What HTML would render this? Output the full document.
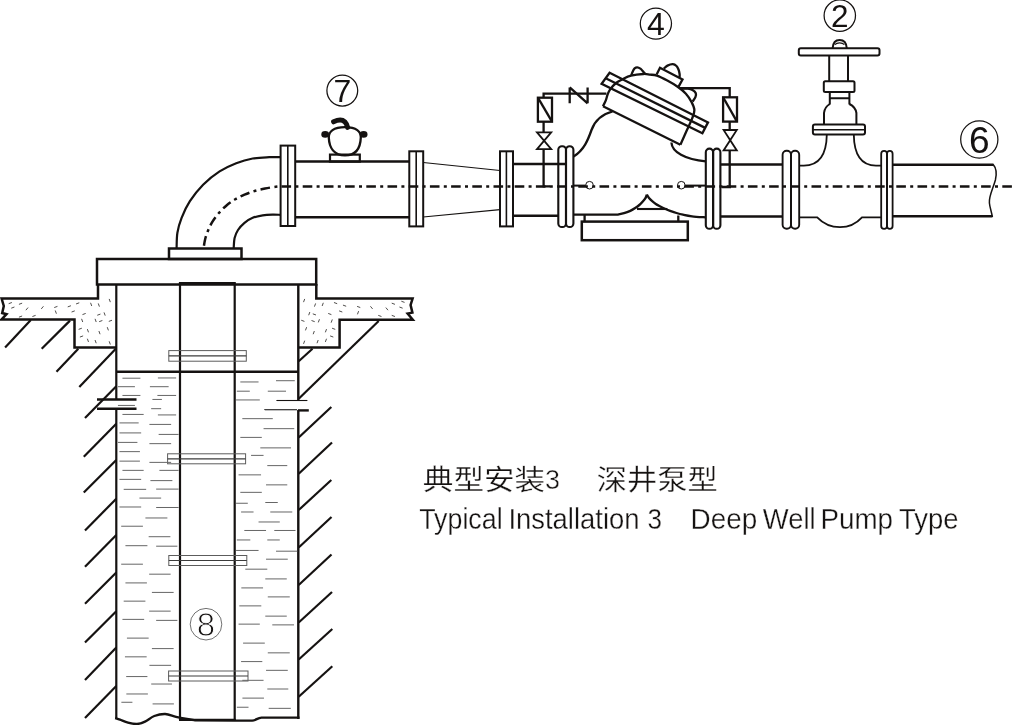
<!DOCTYPE html>
<html lang="zh">
<head>
<meta charset="utf-8">
<title>典型安装3 深井泵型 - Typical Installation 3 Deep Well Pump Type</title>
<style>
html,body{margin:0;padding:0;background:#fff;}
body{width:1013px;height:725px;overflow:hidden;font-family:"Liberation Sans","Noto Sans CJK SC",sans-serif;}
svg{display:block;}
svg line, svg path, svg rect, svg circle{vector-effect:none;}
</style>
</head>
<body>
<svg style="will-change:transform" width="1013" height="725" viewBox="0 0 1013 725" stroke-linejoin="miter" stroke-linecap="butt">
<rect x="0" y="0" width="1013" height="725" fill="#ffffff" stroke="none"/>
<g id="well">
<rect x="97.00" y="259.00" width="219.20" height="25.50" rx="0" stroke="#151211" stroke-width="2.5" fill="none" />
<rect x="169.00" y="248.50" width="72.50" height="10.50" rx="0" stroke="#151211" stroke-width="2.5" fill="none" />
<path d="M98,284 V298.5 H1.6 L3.8,306 L2.2,313 L6.5,314.2 L1.6,319.4 H74.5 V347.6 H116.3" stroke="#151211" stroke-width="2.5" fill="none" />
<path d="M316.3,284 V298.5 H412.6 L410.6,305 L412.4,312.6 L407.6,313.6 L412.8,319.8 H339.6 V347.6 H298.3" stroke="#151211" stroke-width="2.5" fill="none" />
<path d="M116.3,284 V399.6 M116.3,408.8 V719" stroke="#151211" stroke-width="2.2" fill="none" />
<path d="M298.3,284 V400 M298.3,410 V719" stroke="#151211" stroke-width="2.4" fill="none" />
<path d="M180,720 V283.6 M234.7,283.6 V720" stroke="#151211" stroke-width="2.2" fill="none" />
<line x1="178.90" y1="283.50" x2="235.80" y2="283.50" stroke="#151211" stroke-width="3" />
<line x1="116.30" y1="371.70" x2="298.30" y2="371.70" stroke="#151211" stroke-width="2.5" />
<path d="M115.20,718.00 C116.00,718.27 117.87,718.83 120.00,719.60 C122.13,720.37 125.17,721.87 128.00,722.60 C130.83,723.33 134.17,724.17 137.00,724.00 C139.83,723.83 142.12,722.93 145.00,721.60 C147.88,720.27 150.93,717.27 154.30,716.00 C157.67,714.73 161.58,713.87 165.20,714.00 C168.82,714.13 172.37,715.97 176.00,716.80 C179.63,717.63 183.73,718.40 187.00,719.00 C190.27,719.60 194.17,720.17 195.60,720.40 L234.8,720.6 L252.2,720.6 C256,720.4 257.5,717.8 261.5,717.6 L299.5,717.6" stroke="#151211" stroke-width="2.4" fill="none" />
<line x1="179.00" y1="719.80" x2="235.80" y2="719.80" stroke="#151211" stroke-width="2.2" />
<line x1="97.00" y1="399.60" x2="136.50" y2="399.60" stroke="#151211" stroke-width="2.5" />
<line x1="97.00" y1="408.80" x2="136.50" y2="408.80" stroke="#151211" stroke-width="2.5" />
<line x1="276.40" y1="400.50" x2="307.40" y2="400.50" stroke="#151211" stroke-width="1.1" />
<line x1="264.40" y1="409.50" x2="297.00" y2="409.50" stroke="#151211" stroke-width="1.1" />
<line x1="298.00" y1="410.40" x2="308.80" y2="410.40" stroke="#151211" stroke-width="2.4" />
</g>
<g id="clamps">
<rect x="168.80" y="350.60" width="77.50" height="10.60" rx="0" stroke="#5c5c5c" stroke-width="1" fill="none" />
<line x1="168.80" y1="355.90" x2="246.30" y2="355.90" stroke="#3c3c3c" stroke-width="1.2" />
<rect x="167.60" y="453.80" width="78.00" height="10.00" rx="0" stroke="#5c5c5c" stroke-width="1" fill="none" />
<line x1="167.60" y1="458.80" x2="245.60" y2="458.80" stroke="#3c3c3c" stroke-width="1.2" />
<rect x="168.80" y="555.50" width="78.00" height="10.00" rx="0" stroke="#5c5c5c" stroke-width="1" fill="none" />
<line x1="168.80" y1="560.50" x2="246.80" y2="560.50" stroke="#3c3c3c" stroke-width="1.2" />
<rect x="168.60" y="671.00" width="79.40" height="10.00" rx="0" stroke="#5c5c5c" stroke-width="1" fill="none" />
<line x1="168.60" y1="676.00" x2="248.00" y2="676.00" stroke="#3c3c3c" stroke-width="1.2" />
</g>
<g id="hatch">
<line x1="30.80" y1="320.00" x2="5.10" y2="347.40" stroke="#151211" stroke-width="2.2" />
<line x1="70.00" y1="320.60" x2="41.70" y2="348.70" stroke="#151211" stroke-width="2.2" />
<line x1="78.30" y1="348.70" x2="56.50" y2="371.80" stroke="#151211" stroke-width="2.2" />
<line x1="115.80" y1="348.70" x2="79.30" y2="387.00" stroke="#151211" stroke-width="2.2" />
<line x1="116.30" y1="386.20" x2="85.00" y2="418.00" stroke="#151211" stroke-width="2.2" />
<line x1="116.30" y1="423.70" x2="83.80" y2="456.70" stroke="#151211" stroke-width="2.2" />
<line x1="116.30" y1="460.00" x2="83.80" y2="492.50" stroke="#151211" stroke-width="2.2" />
<line x1="116.30" y1="498.70" x2="85.00" y2="530.50" stroke="#151211" stroke-width="2.2" />
<line x1="116.30" y1="535.00" x2="85.00" y2="566.70" stroke="#151211" stroke-width="2.2" />
<line x1="116.30" y1="572.50" x2="85.00" y2="603.70" stroke="#151211" stroke-width="2.2" />
<line x1="116.30" y1="611.20" x2="85.00" y2="642.50" stroke="#151211" stroke-width="2.2" />
<line x1="116.30" y1="647.50" x2="85.00" y2="680.00" stroke="#151211" stroke-width="2.2" />
<line x1="116.30" y1="686.00" x2="85.00" y2="718.00" stroke="#151211" stroke-width="2.2" />
<line x1="298.70" y1="361.20" x2="312.50" y2="348.70" stroke="#151211" stroke-width="2.2" />
<line x1="298.70" y1="398.70" x2="378.70" y2="321.00" stroke="#151211" stroke-width="2.2" />
<line x1="298.70" y1="437.50" x2="331.30" y2="407.00" stroke="#151211" stroke-width="2.2" />
<line x1="298.70" y1="473.70" x2="332.00" y2="442.50" stroke="#151211" stroke-width="2.2" />
<line x1="298.70" y1="510.00" x2="331.30" y2="480.00" stroke="#151211" stroke-width="2.2" />
<line x1="298.70" y1="547.50" x2="331.50" y2="517.00" stroke="#151211" stroke-width="2.2" />
<line x1="298.70" y1="585.00" x2="331.50" y2="554.50" stroke="#151211" stroke-width="2.2" />
<line x1="298.70" y1="622.50" x2="332.00" y2="592.00" stroke="#151211" stroke-width="2.2" />
<line x1="298.70" y1="659.50" x2="332.30" y2="629.00" stroke="#151211" stroke-width="2.2" />
<line x1="298.70" y1="696.70" x2="332.30" y2="666.30" stroke="#151211" stroke-width="2.2" />
</g>
<g id="water">
<line x1="122.44" y1="378.21" x2="140.42" y2="378.21" stroke="#666" stroke-width="1" />
<line x1="157.90" y1="377.96" x2="176.13" y2="377.96" stroke="#666" stroke-width="1" />
<line x1="117.94" y1="386.70" x2="134.93" y2="386.70" stroke="#666" stroke-width="1" />
<line x1="149.91" y1="386.70" x2="168.64" y2="386.70" stroke="#666" stroke-width="1" />
<line x1="122.44" y1="395.44" x2="140.42" y2="395.44" stroke="#666" stroke-width="1" />
<line x1="157.40" y1="395.44" x2="176.13" y2="395.44" stroke="#666" stroke-width="1" />
<line x1="152.41" y1="399.44" x2="161.90" y2="399.44" stroke="#666" stroke-width="1" />
<line x1="117.94" y1="405.43" x2="134.93" y2="405.43" stroke="#666" stroke-width="1" />
<line x1="151.16" y1="408.68" x2="161.15" y2="408.68" stroke="#666" stroke-width="1" />
<line x1="122.44" y1="414.43" x2="143.67" y2="414.43" stroke="#666" stroke-width="1" />
<line x1="157.90" y1="414.93" x2="176.13" y2="414.93" stroke="#666" stroke-width="1" />
<line x1="119.44" y1="422.92" x2="138.67" y2="422.92" stroke="#666" stroke-width="1" />
<line x1="149.41" y1="424.42" x2="171.14" y2="424.42" stroke="#666" stroke-width="1" />
<line x1="119.44" y1="432.91" x2="141.17" y2="432.91" stroke="#666" stroke-width="1" />
<line x1="158.65" y1="434.41" x2="178.63" y2="434.41" stroke="#666" stroke-width="1" />
<line x1="117.94" y1="442.40" x2="137.42" y2="442.40" stroke="#666" stroke-width="1" />
<line x1="149.41" y1="443.65" x2="171.14" y2="443.65" stroke="#666" stroke-width="1" />
<line x1="119.44" y1="451.64" x2="139.92" y2="451.64" stroke="#666" stroke-width="1" />
<line x1="119.44" y1="461.13" x2="139.92" y2="461.13" stroke="#666" stroke-width="1" />
<line x1="149.41" y1="462.38" x2="171.14" y2="462.38" stroke="#666" stroke-width="1" />
<line x1="122.44" y1="470.37" x2="143.67" y2="470.37" stroke="#666" stroke-width="1" />
<line x1="159.40" y1="470.37" x2="178.63" y2="470.37" stroke="#666" stroke-width="1" />
<line x1="119.44" y1="479.36" x2="141.17" y2="479.36" stroke="#666" stroke-width="1" />
<line x1="150.41" y1="480.61" x2="172.39" y2="480.61" stroke="#666" stroke-width="1" />
<line x1="123.69" y1="489.35" x2="146.16" y2="489.35" stroke="#666" stroke-width="1" />
<line x1="156.15" y1="489.10" x2="178.63" y2="489.10" stroke="#666" stroke-width="1" />
<line x1="139.42" y1="498.09" x2="161.15" y2="498.09" stroke="#666" stroke-width="1" />
<line x1="240.32" y1="381.96" x2="258.55" y2="381.96" stroke="#666" stroke-width="1" />
<line x1="276.03" y1="380.71" x2="294.77" y2="380.71" stroke="#666" stroke-width="1" />
<line x1="236.82" y1="391.20" x2="249.81" y2="391.20" stroke="#666" stroke-width="1" />
<line x1="267.79" y1="391.20" x2="286.02" y2="391.20" stroke="#666" stroke-width="1" />
<line x1="236.07" y1="399.94" x2="259.80" y2="399.94" stroke="#666" stroke-width="1" />
<line x1="264.80" y1="409.93" x2="297.26" y2="409.93" stroke="#666" stroke-width="1" />
<line x1="242.32" y1="418.67" x2="272.79" y2="418.67" stroke="#666" stroke-width="1" />
<line x1="263.55" y1="428.66" x2="294.27" y2="428.66" stroke="#666" stroke-width="1" />
<line x1="240.32" y1="437.40" x2="261.80" y2="437.40" stroke="#666" stroke-width="1" />
<line x1="260.30" y1="447.89" x2="291.02" y2="447.89" stroke="#666" stroke-width="1" />
<line x1="251.06" y1="455.38" x2="263.55" y2="455.38" stroke="#666" stroke-width="1" />
<line x1="267.29" y1="465.62" x2="287.27" y2="465.62" stroke="#666" stroke-width="1" />
<line x1="238.57" y1="474.87" x2="261.05" y2="474.87" stroke="#666" stroke-width="1" />
<line x1="266.04" y1="484.86" x2="287.27" y2="484.86" stroke="#666" stroke-width="1" />
<line x1="240.32" y1="492.35" x2="261.80" y2="492.35" stroke="#666" stroke-width="1" />
<line x1="119.44" y1="506.99" x2="141.17" y2="506.99" stroke="#666" stroke-width="1" />
<line x1="156.15" y1="507.49" x2="178.63" y2="507.49" stroke="#666" stroke-width="1" />
<line x1="145.41" y1="517.98" x2="167.39" y2="517.98" stroke="#666" stroke-width="1" />
<line x1="121.19" y1="526.22" x2="142.92" y2="526.22" stroke="#666" stroke-width="1" />
<line x1="148.66" y1="536.71" x2="170.39" y2="536.71" stroke="#666" stroke-width="1" />
<line x1="125.43" y1="545.70" x2="147.41" y2="545.70" stroke="#666" stroke-width="1" />
<line x1="156.15" y1="546.20" x2="177.38" y2="546.20" stroke="#666" stroke-width="1" />
<line x1="121.19" y1="564.19" x2="142.92" y2="564.19" stroke="#666" stroke-width="1" />
<line x1="149.16" y1="574.18" x2="170.64" y2="574.18" stroke="#666" stroke-width="1" />
<line x1="125.43" y1="582.92" x2="146.91" y2="582.92" stroke="#666" stroke-width="1" />
<line x1="151.91" y1="592.41" x2="173.64" y2="592.41" stroke="#666" stroke-width="1" />
<line x1="123.69" y1="601.15" x2="145.41" y2="601.15" stroke="#666" stroke-width="1" />
<line x1="149.16" y1="611.14" x2="170.64" y2="611.14" stroke="#666" stroke-width="1" />
<line x1="122.44" y1="619.38" x2="144.17" y2="619.38" stroke="#666" stroke-width="1" />
<line x1="156.15" y1="620.38" x2="177.38" y2="620.38" stroke="#666" stroke-width="1" />
<line x1="126.93" y1="638.11" x2="148.66" y2="638.11" stroke="#666" stroke-width="1" />
<line x1="151.91" y1="648.60" x2="173.64" y2="648.60" stroke="#666" stroke-width="1" />
<line x1="124.94" y1="656.84" x2="146.66" y2="656.84" stroke="#666" stroke-width="1" />
<line x1="149.41" y1="665.33" x2="171.14" y2="665.33" stroke="#666" stroke-width="1" />
<line x1="126.18" y1="676.57" x2="147.41" y2="676.57" stroke="#666" stroke-width="1" />
<line x1="236.07" y1="503.25" x2="247.81" y2="503.25" stroke="#666" stroke-width="1" />
<line x1="265.29" y1="502.50" x2="277.78" y2="502.50" stroke="#666" stroke-width="1" />
<line x1="241.07" y1="511.99" x2="253.56" y2="511.99" stroke="#666" stroke-width="1" />
<line x1="270.29" y1="511.99" x2="292.27" y2="511.99" stroke="#666" stroke-width="1" />
<line x1="258.55" y1="521.98" x2="279.78" y2="521.98" stroke="#666" stroke-width="1" />
<line x1="244.32" y1="530.47" x2="266.04" y2="530.47" stroke="#666" stroke-width="1" />
<line x1="274.29" y1="530.47" x2="295.51" y2="530.47" stroke="#666" stroke-width="1" />
<line x1="236.82" y1="539.96" x2="250.31" y2="539.96" stroke="#666" stroke-width="1" />
<line x1="267.29" y1="539.96" x2="279.78" y2="539.96" stroke="#666" stroke-width="1" />
<line x1="236.07" y1="550.45" x2="258.55" y2="550.45" stroke="#666" stroke-width="1" />
<line x1="276.03" y1="551.20" x2="297.26" y2="551.20" stroke="#666" stroke-width="1" />
<line x1="266.04" y1="559.19" x2="287.77" y2="559.19" stroke="#666" stroke-width="1" />
<line x1="245.31" y1="569.18" x2="267.29" y2="569.18" stroke="#666" stroke-width="1" />
<line x1="265.29" y1="578.92" x2="286.77" y2="578.92" stroke="#666" stroke-width="1" />
<line x1="241.32" y1="587.91" x2="263.05" y2="587.91" stroke="#666" stroke-width="1" />
<line x1="267.79" y1="596.90" x2="289.77" y2="596.90" stroke="#666" stroke-width="1" />
<line x1="239.32" y1="605.89" x2="261.30" y2="605.89" stroke="#666" stroke-width="1" />
<line x1="265.29" y1="616.13" x2="286.77" y2="616.13" stroke="#666" stroke-width="1" />
<line x1="238.57" y1="624.13" x2="259.80" y2="624.13" stroke="#666" stroke-width="1" />
<line x1="272.29" y1="624.88" x2="294.02" y2="624.88" stroke="#666" stroke-width="1" />
<line x1="243.07" y1="643.11" x2="264.80" y2="643.11" stroke="#666" stroke-width="1" />
<line x1="267.79" y1="652.85" x2="289.77" y2="652.85" stroke="#666" stroke-width="1" />
<line x1="241.07" y1="661.59" x2="262.30" y2="661.59" stroke="#666" stroke-width="1" />
<line x1="266.04" y1="670.33" x2="287.77" y2="670.33" stroke="#666" stroke-width="1" />
<line x1="242.32" y1="680.32" x2="263.55" y2="680.32" stroke="#666" stroke-width="1" />
<line x1="151.21" y1="684.02" x2="171.94" y2="684.02" stroke="#666" stroke-width="1" />
<line x1="126.33" y1="693.97" x2="147.89" y2="693.97" stroke="#666" stroke-width="1" />
<line x1="121.36" y1="702.27" x2="132.42" y2="702.27" stroke="#666" stroke-width="1" />
<line x1="152.59" y1="703.92" x2="173.88" y2="703.92" stroke="#666" stroke-width="1" />
<line x1="267.30" y1="689.00" x2="288.30" y2="689.00" stroke="#666" stroke-width="1" />
<line x1="242.42" y1="698.12" x2="263.98" y2="698.12" stroke="#666" stroke-width="1" />
<line x1="236.89" y1="707.24" x2="248.50" y2="707.24" stroke="#666" stroke-width="1" />
<line x1="268.68" y1="708.35" x2="290.79" y2="708.35" stroke="#666" stroke-width="1" />
</g>
<g id="stipple">
<line x1="8.67" y1="303.68" x2="11.87" y2="302.53" stroke="#3c3a38" stroke-width="0.9" />
<line x1="11.24" y1="308.18" x2="14.43" y2="307.02" stroke="#3c3a38" stroke-width="0.9" />
<line x1="18.94" y1="304.33" x2="22.14" y2="303.17" stroke="#3c3a38" stroke-width="0.9" />
<line x1="25.87" y1="310.19" x2="28.05" y2="307.57" stroke="#3c3a38" stroke-width="0.9" />
<line x1="18.94" y1="317.16" x2="22.14" y2="316.01" stroke="#3c3a38" stroke-width="0.9" />
<line x1="32.42" y1="316.52" x2="35.62" y2="315.37" stroke="#3c3a38" stroke-width="0.9" />
<line x1="41.27" y1="308.91" x2="43.45" y2="306.29" stroke="#3c3a38" stroke-width="0.9" />
<line x1="54.24" y1="307.54" x2="57.44" y2="306.38" stroke="#3c3a38" stroke-width="0.9" />
<line x1="55.26" y1="310.49" x2="56.42" y2="313.69" stroke="#3c3a38" stroke-width="0.9" />
<line x1="67.72" y1="306.89" x2="70.92" y2="305.74" stroke="#3c3a38" stroke-width="0.9" />
<line x1="71.57" y1="312.03" x2="74.77" y2="310.87" stroke="#3c3a38" stroke-width="0.9" />
<line x1="76.07" y1="303.94" x2="79.26" y2="302.79" stroke="#3c3a38" stroke-width="0.9" />
<line x1="82.48" y1="314.60" x2="85.68" y2="313.44" stroke="#3c3a38" stroke-width="0.9" />
<line x1="81.58" y1="318.84" x2="82.73" y2="322.03" stroke="#3c3a38" stroke-width="0.9" />
<line x1="90.56" y1="302.79" x2="91.72" y2="305.99" stroke="#3c3a38" stroke-width="0.9" />
<line x1="98.27" y1="303.43" x2="99.42" y2="306.63" stroke="#3c3a38" stroke-width="0.9" />
<line x1="97.25" y1="315.24" x2="100.44" y2="314.08" stroke="#3c3a38" stroke-width="0.9" />
<line x1="104.04" y1="312.42" x2="105.20" y2="315.62" stroke="#3c3a38" stroke-width="0.9" />
<line x1="95.06" y1="318.84" x2="96.21" y2="322.03" stroke="#3c3a38" stroke-width="0.9" />
<line x1="99.17" y1="321.66" x2="102.37" y2="320.50" stroke="#3c3a38" stroke-width="0.9" />
<line x1="109.18" y1="298.94" x2="110.33" y2="302.14" stroke="#3c3a38" stroke-width="0.9" />
<line x1="108.80" y1="321.40" x2="112.00" y2="320.24" stroke="#3c3a38" stroke-width="0.9" />
<line x1="78.63" y1="329.36" x2="81.83" y2="328.20" stroke="#3c3a38" stroke-width="0.9" />
<line x1="87.36" y1="329.11" x2="88.51" y2="332.30" stroke="#3c3a38" stroke-width="0.9" />
<line x1="107.25" y1="327.18" x2="108.41" y2="330.38" stroke="#3c3a38" stroke-width="0.9" />
<line x1="98.91" y1="331.03" x2="100.06" y2="334.23" stroke="#3c3a38" stroke-width="0.9" />
<line x1="79.92" y1="337.06" x2="83.11" y2="335.90" stroke="#3c3a38" stroke-width="0.9" />
<line x1="87.36" y1="338.74" x2="88.51" y2="341.93" stroke="#3c3a38" stroke-width="0.9" />
<line x1="95.06" y1="340.02" x2="96.21" y2="343.22" stroke="#3c3a38" stroke-width="0.9" />
<line x1="109.18" y1="341.30" x2="110.33" y2="344.50" stroke="#3c3a38" stroke-width="0.9" />
<line x1="303.54" y1="302.14" x2="304.70" y2="298.94" stroke="#3c3a38" stroke-width="0.9" />
<line x1="314.45" y1="306.63" x2="315.61" y2="303.43" stroke="#3c3a38" stroke-width="0.9" />
<line x1="322.16" y1="305.99" x2="323.31" y2="302.79" stroke="#3c3a38" stroke-width="0.9" />
<line x1="333.97" y1="302.53" x2="337.17" y2="303.68" stroke="#3c3a38" stroke-width="0.9" />
<line x1="342.96" y1="305.10" x2="346.16" y2="306.25" stroke="#3c3a38" stroke-width="0.9" />
<line x1="339.11" y1="310.87" x2="342.30" y2="312.03" stroke="#3c3a38" stroke-width="0.9" />
<line x1="328.20" y1="313.44" x2="331.39" y2="314.60" stroke="#3c3a38" stroke-width="0.9" />
<line x1="312.79" y1="313.83" x2="315.99" y2="314.98" stroke="#3c3a38" stroke-width="0.9" />
<line x1="308.68" y1="315.23" x2="309.83" y2="312.03" stroke="#3c3a38" stroke-width="0.9" />
<line x1="301.24" y1="320.24" x2="304.43" y2="321.40" stroke="#3c3a38" stroke-width="0.9" />
<line x1="311.51" y1="320.50" x2="314.70" y2="321.66" stroke="#3c3a38" stroke-width="0.9" />
<line x1="318.31" y1="322.42" x2="319.46" y2="319.22" stroke="#3c3a38" stroke-width="0.9" />
<line x1="331.14" y1="322.68" x2="332.30" y2="319.48" stroke="#3c3a38" stroke-width="0.9" />
<line x1="332.05" y1="328.20" x2="335.24" y2="329.36" stroke="#3c3a38" stroke-width="0.9" />
<line x1="325.37" y1="332.30" x2="326.52" y2="329.11" stroke="#3c3a38" stroke-width="0.9" />
<line x1="313.17" y1="334.23" x2="314.33" y2="331.03" stroke="#3c3a38" stroke-width="0.9" />
<line x1="305.47" y1="330.38" x2="306.62" y2="327.18" stroke="#3c3a38" stroke-width="0.9" />
<line x1="330.12" y1="335.90" x2="333.32" y2="337.06" stroke="#3c3a38" stroke-width="0.9" />
<line x1="325.37" y1="341.93" x2="326.52" y2="338.74" stroke="#3c3a38" stroke-width="0.9" />
<line x1="317.02" y1="343.22" x2="318.18" y2="340.02" stroke="#3c3a38" stroke-width="0.9" />
<line x1="303.54" y1="343.86" x2="304.70" y2="340.66" stroke="#3c3a38" stroke-width="0.9" />
<line x1="357.08" y1="306.38" x2="360.28" y2="307.54" stroke="#3c3a38" stroke-width="0.9" />
<line x1="357.46" y1="314.33" x2="358.61" y2="311.14" stroke="#3c3a38" stroke-width="0.9" />
<line x1="370.43" y1="306.29" x2="372.60" y2="308.91" stroke="#3c3a38" stroke-width="0.9" />
<line x1="385.83" y1="307.57" x2="388.01" y2="310.19" stroke="#3c3a38" stroke-width="0.9" />
<line x1="378.26" y1="315.37" x2="381.46" y2="316.52" stroke="#3c3a38" stroke-width="0.9" />
<line x1="391.74" y1="303.17" x2="394.94" y2="304.33" stroke="#3c3a38" stroke-width="0.9" />
<line x1="399.44" y1="307.02" x2="402.64" y2="308.18" stroke="#3c3a38" stroke-width="0.9" />
<line x1="401.37" y1="301.24" x2="404.56" y2="302.40" stroke="#3c3a38" stroke-width="0.9" />
<line x1="391.74" y1="315.37" x2="394.94" y2="316.52" stroke="#3c3a38" stroke-width="0.9" />
</g>
<g id="pipe">
<path d="M176.60,248.00 C176.73,245.45 176.57,237.73 177.40,232.70 C178.23,227.67 179.52,223.05 181.60,217.80 C183.68,212.55 186.32,206.72 189.90,201.20 C193.48,195.68 198.15,189.67 203.10,184.70 C208.05,179.73 214.08,174.98 219.60,171.40 C225.12,167.82 230.68,165.35 236.20,163.20 C241.72,161.05 247.18,159.50 252.70,158.50 C258.22,157.50 264.68,157.42 269.30,157.20 C273.92,156.98 278.55,157.20 280.40,157.20" stroke="#151211" stroke-width="2.2" fill="none" />
<path d="M233.70,248.00 C233.85,246.33 233.88,241.00 234.60,238.00 C235.32,235.00 236.35,232.53 238.00,230.00 C239.65,227.47 242.05,224.83 244.50,222.80 C246.95,220.77 249.67,219.05 252.70,217.80 C255.73,216.55 259.38,215.83 262.70,215.30 C266.02,214.77 269.65,214.68 272.60,214.60 C275.55,214.52 279.10,214.77 280.40,214.80" stroke="#151211" stroke-width="2.2" fill="none" />
<rect x="280.60" y="145.60" width="14.60" height="80.40" rx="0" stroke="#151211" stroke-width="2" fill="none" />
<line x1="287.80" y1="145.60" x2="287.80" y2="226.00" stroke="#151211" stroke-width="1.6" />
<line x1="295.40" y1="161.60" x2="409.30" y2="161.60" stroke="#151211" stroke-width="2.5" />
<line x1="295.40" y1="217.20" x2="409.30" y2="217.20" stroke="#151211" stroke-width="2.5" />
<rect x="409.30" y="151.30" width="13.90" height="75.10" rx="0" stroke="#151211" stroke-width="2" fill="none" />
<line x1="416.20" y1="151.30" x2="416.20" y2="226.40" stroke="#151211" stroke-width="1.6" />
<line x1="423.20" y1="162.50" x2="500.00" y2="170.50" stroke="#151211" stroke-width="1.2" />
<line x1="423.20" y1="217.00" x2="500.00" y2="209.60" stroke="#151211" stroke-width="1.2" />
<rect x="500.00" y="151.30" width="13.00" height="75.10" rx="0" stroke="#151211" stroke-width="2" fill="none" />
<line x1="506.40" y1="151.30" x2="506.40" y2="226.40" stroke="#151211" stroke-width="1.6" />
<line x1="513.00" y1="164.00" x2="565.00" y2="164.00" stroke="#151211" stroke-width="2.5" />
<line x1="513.00" y1="215.80" x2="558.50" y2="215.80" stroke="#151211" stroke-width="2.5" />
<rect x="558.30" y="146.20" width="7.70" height="80.80" rx="3.6" stroke="#151211" stroke-width="2.1" fill="none" />
<rect x="566.00" y="146.20" width="7.40" height="80.80" rx="3.6" stroke="#151211" stroke-width="2.1" fill="none" />
<rect x="705.80" y="148.60" width="7.30" height="80.20" rx="3.6" stroke="#151211" stroke-width="2.1" fill="none" />
<rect x="713.10" y="148.60" width="7.30" height="80.20" rx="3.6" stroke="#151211" stroke-width="2.1" fill="none" />
<line x1="720.40" y1="164.60" x2="782.60" y2="164.60" stroke="#151211" stroke-width="2.5" />
<line x1="720.40" y1="216.60" x2="782.60" y2="216.60" stroke="#151211" stroke-width="2.5" />
<rect x="782.60" y="150.80" width="8.40" height="78.00" rx="4" stroke="#151211" stroke-width="1.9" fill="none" />
<rect x="791.00" y="150.80" width="8.20" height="78.00" rx="4" stroke="#151211" stroke-width="1.9" fill="none" />
<rect x="881.20" y="150.80" width="5.80" height="78.00" rx="2.9" stroke="#151211" stroke-width="1.8" fill="none" />
<rect x="887.00" y="150.80" width="5.60" height="78.00" rx="2.9" stroke="#151211" stroke-width="1.8" fill="none" />
<path d="M892.6,164.7 H993.4 M892.6,216.3 H992.4" stroke="#151211" stroke-width="2.5" fill="none" />
<path d="M993,164.2 C996.4,168 996.8,174 995.4,180 C993,189 988.6,196 989.4,203 C989.9,208 991.6,212 992.4,217" stroke="#151211" stroke-width="1.5" fill="none" />
</g>
<g id="cl">
<path d="M1013,186.4 H281.5 L280.50,186.40 C279.70,186.47 278.28,186.45 275.70,186.80 C273.12,187.15 268.52,187.80 265.00,188.50 C261.48,189.20 258.02,189.97 254.60,191.00 C251.18,192.03 247.72,193.32 244.50,194.70 C241.28,196.08 238.30,197.50 235.30,199.30 C232.30,201.10 229.23,203.22 226.50,205.50 C223.77,207.78 221.23,210.32 218.90,213.00 C216.57,215.68 214.33,218.62 212.50,221.60 C210.67,224.58 209.12,228.00 207.90,230.90 C206.68,233.80 205.88,236.38 205.20,239.00 C204.52,241.62 204.03,245.33 203.80,246.60" stroke="#151211" stroke-width="2.5" fill="none" stroke-dasharray="9.6 4.3 3 4.3" stroke-dashoffset="20.1"/>
</g>
<g id="airvalve">
<rect x="330.00" y="154.60" width="29.80" height="7.00" rx="0" stroke="#151211" stroke-width="2.2" fill="none" />
<path d="M345,127.2 C333.5,127.2 328.6,131.6 328.8,137.6 C329.2,147.6 334,155.4 345,155.4 C356,155.4 360.4,147.6 360.8,137.6 C361,131.6 356.5,127.2 345,127.2 Z" stroke="#151211" stroke-width="2.3" fill="none" />
<ellipse cx="325.2" cy="134.4" rx="3.9" ry="3.3" fill="#151211"/>
<ellipse cx="363.6" cy="134.4" rx="3.9" ry="3.3" fill="#151211"/>
<path d="M333.6,121.8 C338,119.8 342.6,119.8 344.8,121.8 C346.4,123.4 347,125 347.6,127.4" stroke="#151211" stroke-width="5" fill="none" stroke-linecap="round"/>
</g>
<g id="valve4">
<path d="M573.6,156.5 C584,150 588,140 591.5,130 C595,120 603,114 612.5,111.5" stroke="#151211" stroke-width="2.3" fill="none" />
<path d="M671.4,142.5 C672,152 685,159.5 705.8,161.4" stroke="#151211" stroke-width="2.3" fill="none" />
<path d="M573.6,214.6 H617.5 L617.50,214.60 C618.58,214.37 621.87,213.83 624.00,213.20 C626.13,212.57 628.43,211.67 630.30,210.80 C632.17,209.93 633.70,208.97 635.20,208.00 C636.70,207.03 638.00,206.13 639.30,205.00 C640.60,203.87 641.95,202.40 643.00,201.20 C644.05,200.00 644.95,198.90 645.60,197.80 C646.25,196.70 646.68,195.13 646.90,194.60" stroke="#151211" stroke-width="2.4" fill="none" />
<path d="M646.90,194.60 C647.25,195.17 648.12,196.90 649.00,198.00 C649.88,199.10 651.07,200.20 652.20,201.20 C653.33,202.20 654.52,203.15 655.80,204.00 C657.08,204.85 658.37,205.50 659.90,206.30 C661.43,207.10 663.30,208.05 665.00,208.80 C666.70,209.55 668.18,210.10 670.10,210.80 C672.02,211.50 674.35,212.35 676.50,213.00 C678.65,213.65 680.42,214.15 683.00,214.70 C685.58,215.25 688.20,215.85 692.00,216.30 C695.80,216.75 703.50,217.22 705.80,217.40" stroke="#151211" stroke-width="2.3" fill="none" />
<line x1="637.00" y1="209.00" x2="667.40" y2="209.00" stroke="#151211" stroke-width="2.1" />
<rect x="581.80" y="221.60" width="106.00" height="18.60" rx="0" stroke="#151211" stroke-width="2.5" fill="none" />
<line x1="584.60" y1="215.00" x2="584.60" y2="221.30" stroke="#151211" stroke-width="2.3" />
<line x1="678.30" y1="215.50" x2="678.30" y2="221.30" stroke="#151211" stroke-width="2.3" />
<path d="M603,106.2 L680.4,144.8" stroke="#151211" stroke-width="2.3" fill="none" />
<path d="M603.00,106.20 C603.47,105.23 605.03,102.35 605.80,100.40 C606.57,98.45 606.90,96.30 607.60,94.50 C608.30,92.70 608.60,91.52 610.00,89.60 C611.40,87.68 613.90,84.73 616.00,83.00 C618.10,81.27 620.10,80.42 622.60,79.20 C625.10,77.98 627.53,76.57 631.00,75.70 C634.47,74.83 640.23,74.18 643.40,74.00 C646.57,73.82 647.75,74.32 650.00,74.60 C652.25,74.88 654.02,74.70 656.90,75.70 C659.78,76.70 663.85,78.75 667.30,80.60 C670.75,82.45 674.50,84.62 677.60,86.80 C680.70,88.98 683.58,91.17 685.90,93.70 C688.22,96.23 690.08,99.28 691.50,102.00 C692.92,104.72 694.30,107.23 694.40,110.00 C694.50,112.77 693.42,115.10 692.10,118.60 C690.78,122.10 688.45,126.63 686.50,131.00 C684.55,135.37 681.42,142.50 680.40,144.80" stroke="#151211" stroke-width="2.3" fill="none" />
<path d="M609.6,72.7 L708,122.4 L702.4,133.2 L601.6,83.7 Z" stroke="#151211" stroke-width="2.3" fill="none" />
<line x1="605.70" y1="78.30" x2="705.20" y2="127.90" stroke="#151211" stroke-width="2.3" />
<path d="M631.30,75.20 C631.58,74.50 632.45,72.13 633.00,71.00 C633.55,69.87 633.90,69.02 634.60,68.40 C635.30,67.78 636.23,67.27 637.20,67.30 C638.17,67.33 639.43,67.92 640.40,68.60 C641.37,69.28 642.13,70.47 643.00,71.40 C643.87,72.33 645.17,73.73 645.60,74.20" stroke="#151211" stroke-width="2.3" fill="none" />
<path d="M656.6,74.6 L660,67.8 L682.5,79.5 L678.6,86.6" stroke="#151211" stroke-width="2.3" fill="none" />
<path d="M663.80,68.60 C664.42,68.10 666.00,66.33 667.50,65.60 C669.00,64.87 671.30,64.13 672.80,64.20 C674.30,64.27 675.55,65.12 676.50,66.00 C677.45,66.88 677.98,68.17 678.50,69.50 C679.02,70.83 679.42,72.67 679.60,74.00 C679.78,75.33 679.60,76.92 679.60,77.50" stroke="#151211" stroke-width="2.3" fill="none" />
<path d="M681.00,88.60 C682.17,88.60 686.08,88.37 688.00,88.60 C689.92,88.83 691.20,89.22 692.50,90.00 C693.80,90.78 695.32,92.10 695.80,93.30 C696.28,94.50 695.93,95.82 695.40,97.20 C694.87,98.58 693.07,100.87 692.60,101.60" stroke="#151211" stroke-width="2.3" fill="none" />
<circle cx="589.50" cy="185.20" r="3.80" stroke="#151211" stroke-width="1" fill="none"/>
<circle cx="681.30" cy="185.20" r="3.80" stroke="#151211" stroke-width="1" fill="none"/>
<line x1="573.60" y1="185.60" x2="585.50" y2="185.60" stroke="#151211" stroke-width="2" />
<line x1="685.20" y1="185.60" x2="705.80" y2="185.60" stroke="#151211" stroke-width="2" />
<path d="M606.4,93.7 H543.6 V97.7 M543.6,121.7 V132.2 M543.6,149 V186.3 M542.6,186.3 H550" stroke="#151211" stroke-width="2.3" fill="none" />
<rect x="537.90" y="97.70" width="14.10" height="24.00" rx="0" stroke="#151211" stroke-width="2.3" fill="none" />
<line x1="537.90" y1="97.70" x2="552.00" y2="121.70" stroke="#151211" stroke-width="2.3" />
<path d="M537,132.4 H551.2 L537,149.2 H551.2 Z" stroke="#151211" stroke-width="1.8" fill="none" />
<path d="M569.7,87.4 V103.3 M587.6,87.4 V103.3 M569.7,87.4 L587.6,103.3" stroke="#151211" stroke-width="2.3" fill="none" />
<path d="M680,88.2 H729.7 V97.3 M729.7,121.6 V130 M729.7,150.4 V187.2 M721.8,187 H731" stroke="#151211" stroke-width="2.3" fill="none" />
<rect x="723.10" y="97.30" width="13.90" height="24.30" rx="0" stroke="#151211" stroke-width="2.3" fill="none" />
<line x1="723.10" y1="97.30" x2="737.00" y2="121.60" stroke="#151211" stroke-width="2.3" />
<path d="M723.6,130 H736.8 L723.6,150.4 H736.8 Z" stroke="#151211" stroke-width="1.8" fill="none" />
</g>
<g id="valve2">
<rect x="798.80" y="48.30" width="80.70" height="7.20" rx="2" stroke="#151211" stroke-width="2.0" fill="none" />
<path d="M832.6,48.3 C833,42.5 836,40 839.6,40 C843.4,40 846.4,42.5 846.8,48.3" stroke="#151211" stroke-width="2.0" fill="none" />
<path d="M834.8,44.6 C837,42.2 842.2,42.2 844.4,44.6" stroke="#151211" stroke-width="1.2" fill="none" />
<line x1="829.20" y1="55.50" x2="829.20" y2="81.30" stroke="#151211" stroke-width="2.0" />
<line x1="848.00" y1="55.50" x2="848.00" y2="81.30" stroke="#151211" stroke-width="2.0" />
<rect x="823.80" y="81.30" width="30.70" height="10.70" rx="1.5" stroke="#151211" stroke-width="2.0" fill="none" />
<path d="M829.8,92 V104.5 M849.4,92 V104.5 M829.8,98.3 H849.4" stroke="#151211" stroke-width="2.0" fill="none" />
<path d="M829.8,104 C826.5,106 824.4,108.5 824,113 V124.3 M849.4,104 C853.4,106 855.8,108.5 856.4,113 V124.3" stroke="#151211" stroke-width="2.0" fill="none" />
<rect x="812.90" y="124.50" width="52.10" height="10.10" rx="2" stroke="#151211" stroke-width="2.0" fill="none" />
<line x1="813.00" y1="129.70" x2="865.00" y2="129.70" stroke="#151211" stroke-width="1.4" />
<path d="M826.8,134.5 C826.6,150 822,165.6 803.8,165.6 H799.2" stroke="#151211" stroke-width="1.8" fill="none" />
<path d="M853.8,134.5 C854,150 858,165.6 876,165.6 H881.2" stroke="#151211" stroke-width="1.8" fill="none" />
<path d="M799.2,217.4 H817.2 C823,223.5 831,227.2 840,227.2 C849,227.2 856.5,223.5 862,217.4 H881.2" stroke="#151211" stroke-width="1.8" fill="none" />
</g>
<g id="labels" style="opacity:0.995" font-family="'Liberation Sans', 'Noto Sans CJK SC', sans-serif" text-anchor="middle">
<circle cx="342.30" cy="90.60" r="15.40" stroke="#151211" stroke-width="1.25" fill="none"/>
<text x="342.30" y="102.06" font-size="32" fill="#151211" stroke="#ffffff" stroke-width="0">7</text>
<circle cx="655.90" cy="23.60" r="15.60" stroke="#151211" stroke-width="1.25" fill="none"/>
<text x="655.90" y="35.06" font-size="32" fill="#151211" stroke="#ffffff" stroke-width="0">4</text>
<circle cx="839.80" cy="15.60" r="15.70" stroke="#151211" stroke-width="1.25" fill="none"/>
<text x="839.80" y="26.88" font-size="31.5" fill="#151211" stroke="#ffffff" stroke-width="0">2</text>
<circle cx="979.30" cy="139.50" r="18.60" stroke="#151211" stroke-width="1.25" fill="none"/>
<text x="979.30" y="152.75" font-size="37" fill="#151211" stroke="#ffffff" stroke-width="0">6</text>
<circle cx="206.00" cy="624.20" r="15.80" stroke="#333" stroke-width="0.7" fill="none"/>
<text x="206.00" y="636.01" font-size="33" fill="#151211" stroke="#ffffff" stroke-width="1.0">8</text>
</g>
<g id="caption" style="opacity:0.995" font-family="'Liberation Sans', 'Noto Sans CJK SC', sans-serif">
<text x="422.80" y="490.00" font-size="28.6" fill="#151211" stroke="#ffffff" stroke-width="0.3" textLength="122.4" lengthAdjust="spacingAndGlyphs">典型安装</text>
<text x="545.00" y="489.20" font-size="27.5" fill="#151211" stroke="#ffffff" stroke-width="0.45" textLength="15" lengthAdjust="spacingAndGlyphs">3</text>
<text x="596.80" y="490.00" font-size="28.6" fill="#151211" stroke="#ffffff" stroke-width="0.3" textLength="121" lengthAdjust="spacingAndGlyphs">深井泵型</text>
<text x="419.20" y="529.20" font-size="28.6" fill="#151211" stroke="#ffffff" stroke-width="0.3" textLength="83.4" lengthAdjust="spacingAndGlyphs">Typical</text>
<text x="508.40" y="529.20" font-size="28.6" fill="#151211" stroke="#ffffff" stroke-width="0.3" textLength="131.1" lengthAdjust="spacingAndGlyphs">Installation</text>
<text x="647.50" y="529.20" font-size="28.6" fill="#151211" stroke="#ffffff" stroke-width="0.3" textLength="14.5" lengthAdjust="spacingAndGlyphs">3</text>
<text x="690.60" y="529.20" font-size="28.6" fill="#151211" stroke="#ffffff" stroke-width="0.3" textLength="66.6" lengthAdjust="spacingAndGlyphs">Deep</text>
<text x="762.80" y="529.20" font-size="28.6" fill="#151211" stroke="#ffffff" stroke-width="0.3" textLength="52.8" lengthAdjust="spacingAndGlyphs">Well</text>
<text x="820.50" y="529.20" font-size="28.6" fill="#151211" stroke="#ffffff" stroke-width="0.3" textLength="72.5" lengthAdjust="spacingAndGlyphs">Pump</text>
<text x="899.00" y="529.20" font-size="28.6" fill="#151211" stroke="#ffffff" stroke-width="0.3" textLength="59.5" lengthAdjust="spacingAndGlyphs">Type</text>
</g>
</svg>
</body>
</html>
